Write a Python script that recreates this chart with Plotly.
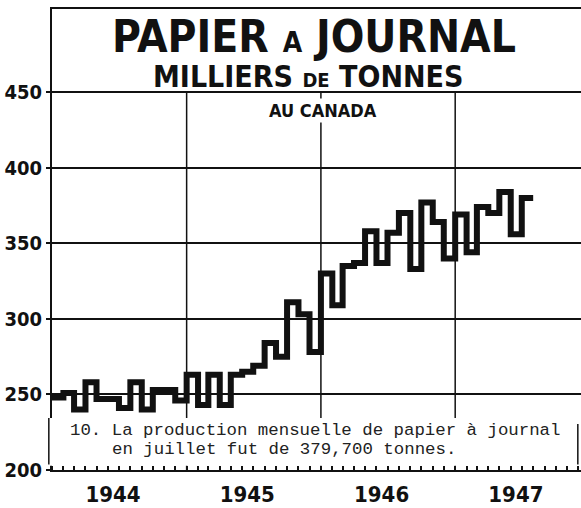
import pandas as pd
import plotly.graph_objects as go

# Monthly newsprint production in Canada, thousands of tons (Jan 1944 - Jul 1947)
values_1944 = [248, 251, 240, 258, 247, 247, 241, 258, 240, 253, 253, 246]
values_1945 = [263, 243, 263, 243, 263, 265, 269, 284, 275, 311, 303, 278]
values_1946 = [330, 309, 335, 337, 358, 337, 357, 370, 333, 377, 364, 340]
values_1947 = [369, 344, 374, 370, 384, 356, 380]
years = [1944, 1945, 1946, 1947]
year_labels = ["1944", "1945", "1946", "1947"]
y_ticks = [200, 250, 300, 350, 400, 450]

values = values_1944 + values_1945 + values_1946 + values_1947
months = pd.date_range("1944-01-01", periods=len(values) + 1, freq="MS")
x_step = list(months)
y_step = values + [values[-1]]

LABEL_FONT = "DejaVu Sans Condensed, Liberation Sans Narrow, Liberation Sans, Arial"
MONO = "Liberation Mono, Courier New, DejaVu Sans Mono, monospace"

fig = go.Figure()
fig.add_trace(go.Scatter(
    x=x_step, y=y_step, mode="lines", line_shape="hv",
    line=dict(color="#111111", width=6), hoverinfo="skip", showlegend=False,
))

shapes = []
# vertical year gridlines (from the 200 axis up to the 450 line)
for yr in years[1:]:
    shapes.append(dict(type="line", xref="x", yref="y", x0=f"{yr}-01-01", x1=f"{yr}-01-01",
                       y0=200, y1=450, line=dict(color="#111111", width=1.5), layer="below"))
# note box
shapes.append(dict(type="rect", xref="paper", yref="paper", x0=-0.006, x1=0.994, y0=0.009, y1=0.113,
                   fillcolor="white", line=dict(width=0), layer="above"))
shapes.append(dict(type="line", xref="paper", yref="paper", x0=-0.006, x1=-0.006, y0=0.012, y1=0.113,
                   line=dict(color="#111111", width=1.5), layer="above"))
shapes.append(dict(type="line", xref="paper", yref="paper", x0=0.994, x1=0.994, y0=0.012, y1=0.10,
                   line=dict(color="#111111", width=1.5), layer="above"))

annotations = [
    dict(text="<b>PAPIER <span style='font-size:28px'>A</span> JOURNAL</b>", x=0.495, y=0.94,
         xref="paper", yref="paper", xanchor="center", yanchor="middle", showarrow=False,
         font=dict(family=LABEL_FONT, size=44, color="#111111")),
    dict(text="<b>MILLIERS <span style='font-size:20px'>DE</span> TONNES</b>", x=0.484, y=0.853,
         xref="paper", yref="paper", xanchor="center", yanchor="middle", showarrow=False,
         font=dict(family=LABEL_FONT, size=30, color="#111111")),
    dict(text="<b>AU CANADA</b>", x=0.512, y=0.78, xref="paper", yref="paper",
         xanchor="center", yanchor="middle", showarrow=False,
         bgcolor="white", font=dict(family=LABEL_FONT, size=18, color="#111111")),
    dict(text="10. La production mensuelle de papier à journal", x=0.030, y=0.085,
         xref="paper", yref="paper", xanchor="left", yanchor="middle", showarrow=False,
         font=dict(family=MONO, size=17.4, color="#222222")),
    dict(text="en juillet fut de 379,700 tonnes.", x=0.110, y=0.045,
         xref="paper", yref="paper", xanchor="left", yanchor="middle", showarrow=False,
         font=dict(family=MONO, size=17.4, color="#222222")),
]

fig.update_layout(
    width=581, height=508,
    margin=dict(l=52, r=0, t=9, b=38),
    paper_bgcolor="white", plot_bgcolor="white",
    shapes=shapes, annotations=annotations,
    xaxis=dict(
        type="date", range=["1944-01-01", "1947-12-09"], automargin=False,
        tickmode="array", tickvals=[f"{yr}-06-15" for yr in years], ticktext=year_labels,
        ticks="", showgrid=False, zeroline=False,
        showline=True, linecolor="#111111", linewidth=2, mirror=True,
        tickfont=dict(family=LABEL_FONT, size=22, color="#111111", weight="bold"),
        ticklabelstandoff=4,
        minor=dict(dtick="M1", ticks="inside", ticklen=4, tickcolor="#111111", tickwidth=1.5, showgrid=False),
    ),
    yaxis=dict(
        range=[200, 505], tickmode="array", tickvals=y_ticks, automargin=False,
        ticks="outside", ticklen=4, tickcolor="#111111", tickwidth=2,
        showgrid=True, gridcolor="#111111", gridwidth=1.5, zeroline=False,
        showline=True, linecolor="#111111", linewidth=2, mirror=False,
        tickfont=dict(family=LABEL_FONT, size=20, color="#111111", weight="bold"),
    ),
)

fig.write_html("out.html", config={"displayModeBar": False},
               post_script="document.body.style.margin='0';")
